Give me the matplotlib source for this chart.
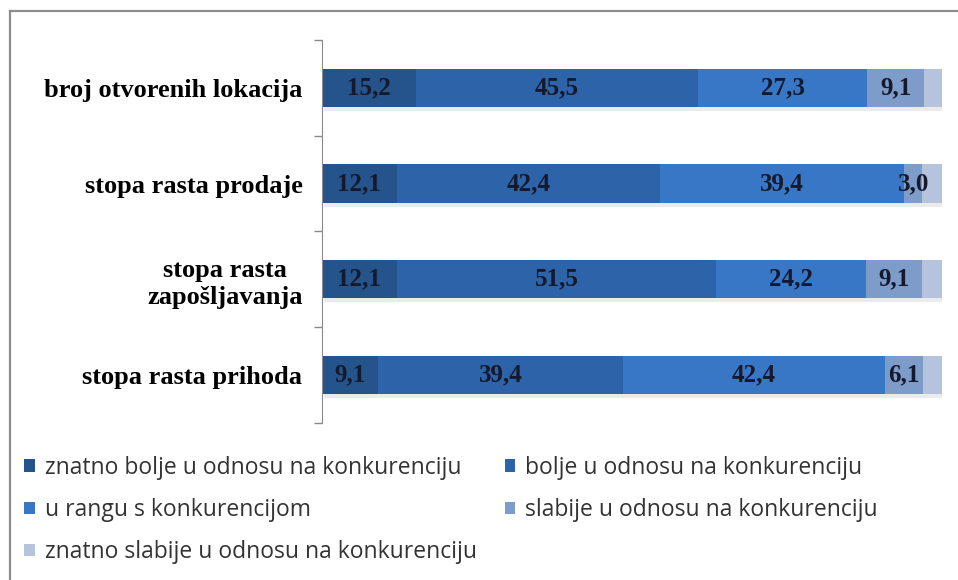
import matplotlib
matplotlib.use("Agg")
import matplotlib.pyplot as plt
from matplotlib.lines import Line2D

# podaci (%), redoslijed kategorija od vrha prema dnu
kategorije = [
    "broj otvorenih lokacija",
    "stopa rasta prodaje",
    "stopa rasta\nzapošljavanja",
    "stopa rasta prihoda",
]
serije = [
    "znatno bolje u odnosu na konkurenciju",
    "bolje u odnosu na konkurenciju",
    "u rangu s konkurencijom",
    "slabije u odnosu na konkurenciju",
    "znatno slabije u odnosu na konkurenciju",
]
znatno_bolje = [15.2, 12.1, 12.1, 9.1]
bolje = [45.5, 42.4, 51.5, 39.4]
u_rangu = [27.3, 39.4, 24.2, 42.4]
slabije = [9.1, 3.0, 9.1, 6.1]
znatno_slabije = [2.9, 3.1, 3.1, 3.0]

vrijednosti = [znatno_bolje, bolje, u_rangu, slabije, znatno_slabije]
boje = ["#25548c", "#2d63a9", "#3877c6", "#7e9cc9", "#b5c3dc"]
oznaci = [True, True, True, True, False]

fig = plt.figure(figsize=(9.58, 5.8), dpi=100)
ax = fig.add_axes([0.336, 0.271, 0.647, 0.66])

y = list(range(len(kategorije)))[::-1]
visina = 0.4

# blaga sjena ispod traka
ax.barh([v - 0.04 for v in y], [100] * len(y), height=visina, left=0.3,
        color="#000000", alpha=0.08, zorder=1)

lijevo = [0.0] * len(y)
rucke = []
for vals, boja, ime, lab in zip(vrijednosti, boje, serije, oznaci):
    bars = ax.barh(y, vals, height=visina, left=lijevo, color=boja,
                   edgecolor="none", label=ime, zorder=2)
    rucke.append(bars)
    if lab:
        for yi, l, v in zip(y, lijevo, vals):
            ax.text(l + v / 2, yi, f"{v:.1f}".replace(".", ","),
                    ha="center", va="center", fontsize=18, fontweight="bold",
                    family="Liberation Serif", color="#15192b", zorder=3)
    lijevo = [a + b for a, b in zip(lijevo, vals)]

ax.set_xlim(0, 100)
ax.set_ylim(-0.5, len(kategorije) - 0.5)
ax.set_xticks([])
ax.set_yticks(y)
ax.set_yticklabels(kategorije, fontsize=19, fontweight="bold",
                   family="Liberation Serif", multialignment="center",
                   linespacing=1.25)
ax.tick_params(axis="y", which="major", length=0, pad=14)
ax.set_yticks([i - 0.5 for i in range(len(kategorije) + 1)], minor=True)
ax.tick_params(axis="y", which="minor", length=6, width=1, color="#8a8a8a",
               direction="out")
for s in ["top", "right", "bottom"]:
    ax.spines[s].set_visible(False)
ax.spines["left"].set_color("#8a8a8a")

# legenda u dva stupca, popunjava se po redovima
redoslijed = [0, 2, 4, 1, 3]
leg = fig.legend([rucke[i] for i in redoslijed], [serije[i] for i in redoslijed],
                 ncol=2, loc="upper left", bbox_to_anchor=(0.004, 0.25),
                 frameon=False, handlelength=0.45, handleheight=0.45,
                 handletextpad=0.45, labelspacing=0.8, columnspacing=1.2,
                 prop={"family": "Open Sans", "size": 16.5})
for t in leg.get_texts():
    t.set_color("#333333")

# okvir grafikona (gornji i lijevi rub)
fig.add_artist(Line2D([0.0104, 1.0], [0.981, 0.981], color="#8c8c8c", lw=1.6))
fig.add_artist(Line2D([0.0104, 0.0104], [0.0, 0.981], color="#8c8c8c", lw=1.6))

fig.savefig("out.png", dpi=100)
